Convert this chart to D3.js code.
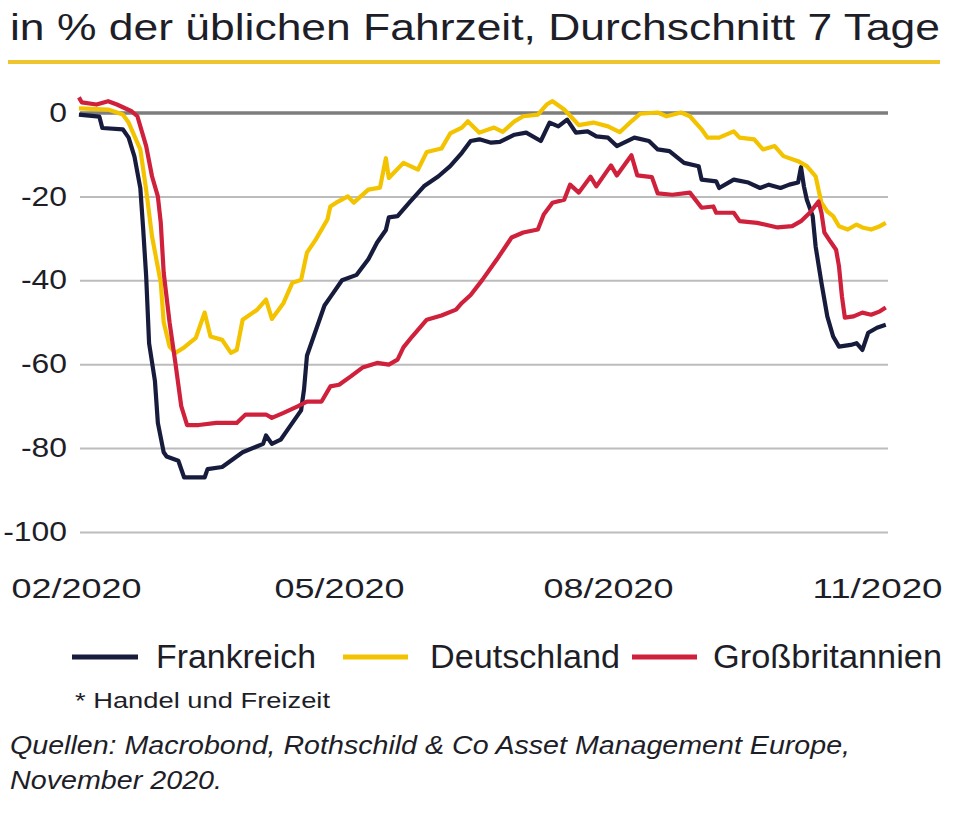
<!DOCTYPE html>
<html>
<head>
<meta charset="utf-8">
<script src="https://cdn.jsdelivr.net/npm/d3@7"></script>
<style>
  html, body { margin: 0; padding: 0; background: #ffffff; }
  svg { display: block; }
  text { font-family: "Liberation Sans", Arial, sans-serif; }
</style>
</head>
<body>
<svg id="chart" width="960" height="813"></svg>
<script>
// ---------- DATA ----------
const titleText = "in % der üblichen Fahrzeit, Durchschnitt 7 Tage";
const seriesNames = ["Frankreich", "Deutschland", "Großbritannien"];
const seriesColors = ["#171c3d", "#f3c300", "#d0213c"];
const yTickValues = [0, -20, -40, -60, -80, -100];
const xTickDates = ["2020-02-01", "2020-05-01", "2020-08-01", "2020-11-01"];
const footnote = "* Handel und Freizeit";
const sourceLine1 = "Quellen: Macrobond, Rothschild & Co Asset Management Europe,";
const sourceLine2 = "November 2020.";

const franceData = [
  ["2020-02-02",-0.5],["2020-02-09",-1],["2020-02-10",-3.7],["2020-02-17",-4],["2020-02-19",-6],
  ["2020-02-21",-10.5],["2020-02-23",-18],["2020-02-24",-28],["2020-02-25",-39],["2020-02-26",-55],
  ["2020-02-28",-64],["2020-02-29",-74],["2020-03-02",-81],["2020-03-03",-82],["2020-03-07",-83],
  ["2020-03-09",-87],["2020-03-16",-87],["2020-03-17",-85],["2020-03-22",-84.5],["2020-03-29",-81],
  ["2020-04-05",-79],["2020-04-06",-77],["2020-04-08",-79],["2020-04-11",-78],["2020-04-14",-75],
  ["2020-04-18",-71],["2020-04-19",-66],["2020-04-20",-58],["2020-04-22",-54],["2020-04-26",-46],
  ["2020-04-28",-44],["2020-05-02",-40],["2020-05-07",-38.7],["2020-05-11",-35],["2020-05-14",-31],
  ["2020-05-17",-28],["2020-05-18",-25],["2020-05-21",-24.7],["2020-05-25",-21.5],["2020-05-30",-17.6],
  ["2020-06-04",-15.2],["2020-06-08",-12.8],["2020-06-12",-9.6],["2020-06-15",-6.8],["2020-06-18",-6.4],
  ["2020-06-22",-7.2],["2020-06-25",-7],["2020-06-30",-5.3],["2020-07-04",-4.8],["2020-07-09",-6.8],
  ["2020-07-12",-2.4],["2020-07-15",-3.3],["2020-07-18",-1.7],["2020-07-21",-4.8],["2020-07-25",-4.5],
  ["2020-07-28",-5.7],["2020-08-01",-6],["2020-08-04",-8],["2020-08-10",-6],["2020-08-15",-6.8],
  ["2020-08-18",-8.8],["2020-08-22",-9.2],["2020-08-27",-12],["2020-09-01",-12.8],["2020-09-02",-16],
  ["2020-09-07",-16.4],["2020-09-08",-18],["2020-09-13",-16],["2020-09-18",-16.7],["2020-09-22",-18],
  ["2020-09-25",-17.2],["2020-09-29",-18],["2020-10-02",-17.2],["2020-10-05",-16.7],["2020-10-06",-13],
  ["2020-10-07",-17.6],["2020-10-08",-20.8],["2020-10-10",-24.7],["2020-10-11",-31.9],["2020-10-13",-40.6],
  ["2020-10-15",-48.6],["2020-10-17",-53.4],["2020-10-19",-55.8],["2020-10-23",-55.4],["2020-10-25",-55],
  ["2020-10-27",-56.6],["2020-10-29",-52.5],["2020-11-01",-51.3],["2020-11-04",-50.6]
];

const germanyData = [
  ["2020-02-02",1],["2020-02-12",0.7],["2020-02-17",-0.5],["2020-02-19",-2.4],["2020-02-23",-8.8],
  ["2020-02-25",-18.4],["2020-02-27",-29.5],["2020-03-01",-40.6],["2020-03-02",-50],["2020-03-04",-55.8],
  ["2020-03-06",-57.3],["2020-03-09",-56],["2020-03-13",-53.7],["2020-03-16",-47.7],["2020-03-18",-53.4],
  ["2020-03-22",-54.2],["2020-03-25",-57.3],["2020-03-27",-56.6],["2020-03-29",-49.4],["2020-04-03",-47],
  ["2020-04-06",-44.6],["2020-04-08",-49.2],["2020-04-12",-45.4],["2020-04-15",-40.6],["2020-04-18",-39.9],
  ["2020-04-20",-33.4],["2020-04-23",-30.3],["2020-04-27",-25.5],["2020-04-28",-22.4],["2020-04-30",-21.5],
  ["2020-05-04",-20],["2020-05-06",-21.5],["2020-05-11",-18.4],["2020-05-15",-17.9],["2020-05-17",-10.9],
  ["2020-05-18",-15.6],["2020-05-23",-12],["2020-05-28",-13.6],["2020-05-31",-9.4],["2020-06-05",-8.6],
  ["2020-06-08",-5],["2020-06-12",-3.6],["2020-06-14",-2.1],["2020-06-18",-4.8],["2020-06-23",-3.6],
  ["2020-06-26",-4.6],["2020-06-30",-2.1],["2020-07-03",-0.9],["2020-07-08",-0.5],["2020-07-11",1.9],
  ["2020-07-13",2.7],["2020-07-17",0.7],["2020-07-20",-1.5],["2020-07-22",-3],["2020-07-27",-2.4],
  ["2020-08-01",-3.3],["2020-08-05",-4.7],["2020-08-09",-2.1],["2020-08-12",-0.3],["2020-08-18",0],
  ["2020-08-21",-0.9],["2020-08-26",0],["2020-08-29",-0.9],["2020-09-02",-4],["2020-09-04",-6],
  ["2020-09-08",-6],["2020-09-13",-4.5],["2020-09-15",-6],["2020-09-20",-6.4],["2020-09-23",-8.8],
  ["2020-09-27",-8],["2020-09-30",-10.4],["2020-10-05",-11.6],["2020-10-08",-12.8],["2020-10-11",-15.2],
  ["2020-10-12",-18.4],["2020-10-13",-21.5],["2020-10-15",-23.6],["2020-10-17",-24.7],["2020-10-19",-27.1],
  ["2020-10-22",-27.9],["2020-10-25",-26.7],["2020-10-27",-27.4],["2020-10-30",-27.9],["2020-11-02",-27.1],
  ["2020-11-04",-26.3]
];

const ukData = [
  ["2020-02-02",3.6],["2020-02-03",2.4],["2020-02-08",1.9],["2020-02-12",2.7],["2020-02-15",1.9],
  ["2020-02-20",0.3],["2020-02-22",-0.9],["2020-02-25",-8],["2020-02-27",-15.2],["2020-02-29",-20],
  ["2020-03-01",-26.3],["2020-03-02",-38.2],["2020-03-04",-50],["2020-03-06",-59.7],["2020-03-08",-70],
  ["2020-03-10",-74.5],["2020-03-14",-74.5],["2020-03-20",-74],["2020-03-27",-74],["2020-03-30",-72],
  ["2020-04-06",-72],["2020-04-08",-72.8],["2020-04-12",-71.6],["2020-04-17",-70],["2020-04-20",-68.9],
  ["2020-04-25",-68.9],["2020-04-28",-65.3],["2020-05-01",-64.9],["2020-05-05",-62.9],["2020-05-09",-60.8],
  ["2020-05-14",-59.7],["2020-05-18",-60.1],["2020-05-21",-58.9],["2020-05-23",-56],["2020-05-26",-53.4],
  ["2020-05-31",-49.4],["2020-06-05",-48.4],["2020-06-10",-47],["2020-06-12",-45.4],["2020-06-15",-43.5],
  ["2020-06-19",-39.9],["2020-06-24",-35],["2020-06-29",-29.8],["2020-07-03",-28.6],["2020-07-08",-27.9],
  ["2020-07-10",-24.3],["2020-07-13",-21.5],["2020-07-17",-20.8],["2020-07-19",-17.2],["2020-07-22",-19.1],
  ["2020-07-26",-15.3],["2020-07-28",-17.6],["2020-08-02",-12.6],["2020-08-04",-15],["2020-08-09",-10.2],
  ["2020-08-11",-15],["2020-08-16",-15.4],["2020-08-18",-19.3],["2020-08-23",-19.6],["2020-08-29",-19.1],
  ["2020-09-02",-22.7],["2020-09-06",-22.4],["2020-09-07",-23.9],["2020-09-13",-23.9],["2020-09-15",-25.9],
  ["2020-09-21",-26.3],["2020-09-28",-27.4],["2020-10-03",-27.1],["2020-10-06",-25.9],["2020-10-09",-23.9],
  ["2020-10-12",-21.2],["2020-10-13",-23.9],["2020-10-14",-28.6],["2020-10-16",-30.7],["2020-10-18",-32.7],
  ["2020-10-19",-36.7],["2020-10-20",-43.8],["2020-10-21",-48.9],["2020-10-24",-48.6],["2020-10-27",-47.7],
  ["2020-10-30",-48.2],["2020-11-02",-47.4],["2020-11-04",-46.5]
];

// ---------- CHART ----------
const parse = d3.timeParse("%Y-%m-%d");
const svg = d3.select("#chart");

const x = d3.scaleTime()
  .domain([parse("2020-02-01"), parse("2020-11-01")])
  .range([76, 877]);
const y = d3.scaleLinear().domain([-100, 0]).range([532, 112.5]);

const gridLeft = 80, gridRight = 888;

// Title
svg.append("text")
  .attr("x", 10).attr("y", 40)
  .attr("font-size", 36).attr("fill", "#1e1e28")
  .attr("textLength", 930).attr("lengthAdjust", "spacingAndGlyphs")
  .text(titleText);

svg.append("rect")
  .attr("x", 8).attr("y", 60).attr("width", 932).attr("height", 4)
  .attr("fill", "#eec52e");

// Y axis with gridlines
const yAxis = svg.append("g")
  .attr("transform", `translate(${gridLeft},0)`)
  .call(d3.axisLeft(y).tickValues(yTickValues)
    .tickSize(-(gridRight - gridLeft)).tickPadding(13)
    .tickFormat(d => String(d)));
yAxis.select(".domain").remove();
yAxis.selectAll(".tick line")
  .attr("stroke", d => d === 0 ? "#7d7d7d" : "#bcbcbc")
  .attr("stroke-width", d => d === 0 ? 3.5 : 2);
yAxis.selectAll(".tick text")
  .attr("font-size", 27).attr("fill", "#1e1e28")
  .attr("font-family", "'Liberation Sans', Arial, sans-serif")
  .each(function() {
    const w = this.getComputedTextLength();
    d3.select(this).attr("textLength", w * 1.18).attr("lengthAdjust", "spacingAndGlyphs");
  });

// X axis
const xAxis = svg.append("g")
  .attr("transform", "translate(0,578)")
  .call(d3.axisBottom(x).tickValues(xTickDates.map(parse))
    .tickSize(0).tickPadding(0).tickFormat(d3.timeFormat("%m/%Y")));
xAxis.select(".domain").remove();
xAxis.selectAll(".tick text")
  .attr("font-size", 28).attr("fill", "#1e1e28")
  .attr("font-family", "'Liberation Sans', Arial, sans-serif")
  .attr("textLength", 130).attr("lengthAdjust", "spacingAndGlyphs");

// Lines
const line = d3.line()
  .x(d => x(parse(d[0])))
  .y(d => y(d[1]))
  .curve(d3.curveLinear);

const allSeries = [franceData, germanyData, ukData];
svg.append("g").selectAll("path")
  .data(allSeries)
  .join("path")
  .attr("d", line)
  .attr("fill", "none")
  .attr("stroke", (d, i) => seriesColors[i])
  .attr("stroke-width", 4.2)
  .attr("stroke-linejoin", "round")
  .attr("stroke-linecap", "butt");

// Legend
const legendLayout = [
  { x1: 72, x2: 138, tx: 156, tw: 160 },
  { x1: 343, x2: 408, tx: 430, tw: 190 },
  { x1: 632, x2: 697, tx: 713, tw: 229 }
];
const legend = svg.append("g");
seriesNames.forEach((name, i) => {
  const L = legendLayout[i];
  legend.append("line")
    .attr("x1", L.x1).attr("x2", L.x2).attr("y1", 657).attr("y2", 657)
    .attr("stroke", seriesColors[i]).attr("stroke-width", 5);
  legend.append("text")
    .attr("x", L.tx).attr("y", 668)
    .attr("font-size", 33).attr("fill", "#1e1e28")
    .attr("textLength", L.tw).attr("lengthAdjust", "spacingAndGlyphs")
    .text(name);
});

// Footnotes
svg.append("text")
  .attr("x", 75).attr("y", 708)
  .attr("font-size", 22).attr("fill", "#1e1e28")
  .attr("textLength", 255).attr("lengthAdjust", "spacingAndGlyphs")
  .text(footnote);

svg.append("text")
  .attr("x", 10).attr("y", 754)
  .attr("font-size", 25).attr("font-style", "italic").attr("fill", "#1e1e28")
  .attr("textLength", 840).attr("lengthAdjust", "spacingAndGlyphs")
  .text(sourceLine1);

svg.append("text")
  .attr("x", 10).attr("y", 789)
  .attr("font-size", 25).attr("font-style", "italic").attr("fill", "#1e1e28")
  .attr("textLength", 212).attr("lengthAdjust", "spacingAndGlyphs")
  .text(sourceLine2);
</script>
</body>
</html>
